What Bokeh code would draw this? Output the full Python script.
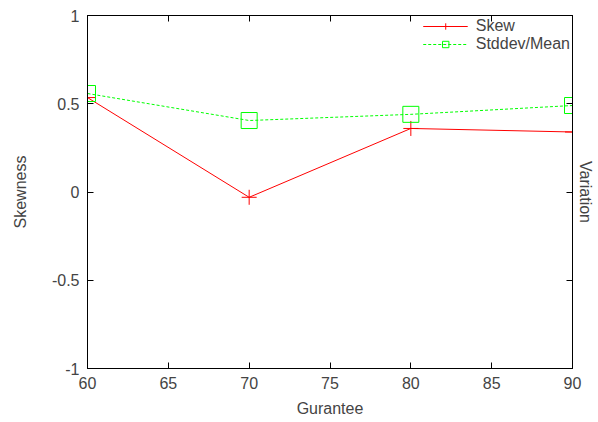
from bokeh.plotting import figure
from bokeh.models import LinearAxis, Range1d, FixedTicker, CustomJSTickFormatter, Legend, LegendItem
from bokeh.embed import file_html
from bokeh.resources import INLINE

guarantee = [60, 70, 80, 90]
skew = [0.535, -0.03, 0.36, 0.34]
stddev_mean = [0.558, 0.405, 0.44, 0.49]

x_ticks = [60, 65, 70, 75, 80, 85, 90]
y_ticks = [-1, -0.5, 0, 0.5, 1]

FONT = "Liberation Sans"
FS = "16px"

p = figure(width=598, height=422, output_backend="svg", toolbar_location=None,
           x_range=Range1d(60, 90), y_range=Range1d(-1, 1),
           min_border_left=87, min_border_right=26, min_border_top=15, min_border_bottom=54,
           x_axis_label="Gurantee", y_axis_label="Skewness")
p.grid.visible = False
p.outline_line_color = "black"
p.outline_line_width = 1
p.background_fill_color = "white"
p.border_fill_color = "white"

def style_axis(ax, show_labels=True):
    ax.axis_line_color = "black"
    ax.major_tick_in = 6
    ax.major_tick_out = 0
    ax.minor_tick_line_color = None
    ax.major_label_text_font = FONT
    ax.major_label_text_font_size = FS
    ax.axis_label_text_font = FONT
    ax.axis_label_text_font_size = FS
    ax.axis_label_text_font_style = "normal"
    if show_labels:
        ax.formatter = CustomJSTickFormatter(code="return String(tick)")
    else:
        ax.formatter = CustomJSTickFormatter(code="return ''")

p.xaxis.ticker = FixedTicker(ticks=x_ticks)
p.yaxis.ticker = FixedTicker(ticks=y_ticks)
style_axis(p.xaxis[0])
style_axis(p.yaxis[0])
p.xaxis.major_label_standoff = 8
p.xaxis.axis_label_standoff = 8
p.yaxis.major_label_standoff = 8
p.yaxis.axis_label_standoff = 20

top = LinearAxis(ticker=FixedTicker(ticks=x_ticks))
style_axis(top, show_labels=False)
top.major_label_standoff = 0
p.add_layout(top, "above")

right = LinearAxis(ticker=FixedTicker(ticks=y_ticks), axis_label="Variation")
style_axis(right, show_labels=False)
right.major_label_standoff = 0
right.axis_label_standoff = 4
p.add_layout(right, "right")

l1 = p.line(guarantee, skew, line_color="#ff0000", line_width=1)
m1 = p.scatter(guarantee, skew, marker="cross", size=15, line_color="#ff0000", line_width=1)
l2 = p.line(guarantee, stddev_mean, line_color="#00ff00", line_width=1, line_dash="3 2")
m2 = p.scatter(guarantee, stddev_mean, marker="square", size=16, line_color="#00ff00",
               fill_color=None, line_width=1)

legend = Legend(items=[LegendItem(label="Skew", renderers=[l1, m1]),
                       LegendItem(label="Stddev/Mean", renderers=[l2, m2])],
                location="top_right")
legend.background_fill_alpha = 0
legend.border_line_color = None
legend.label_text_font = FONT
legend.label_text_font_size = FS
legend.glyph_width = 45
legend.glyph_height = 16
legend.spacing = 0
legend.padding = 4
legend.margin = 2
legend.label_height = 16
legend.label_standoff = 8
p.add_layout(legend, "center")

open("out.html", "w").write(file_html(p, INLINE))
